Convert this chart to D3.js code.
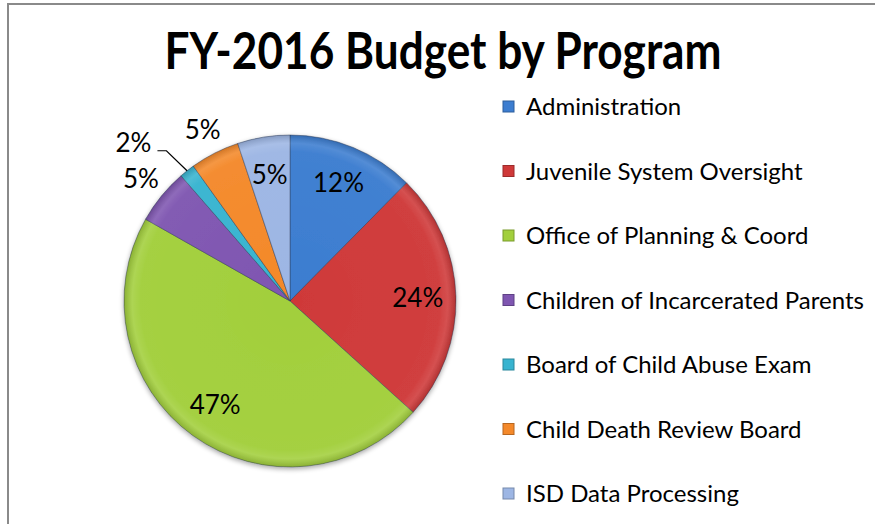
<!DOCTYPE html>
<html><head><meta charset="utf-8">
<script src="https://cdn.jsdelivr.net/npm/d3@7/dist/d3.min.js"></script>
<style>html,body{margin:0;padding:0;background:#fff;}svg{display:block;}</style>
</head><body>
<svg id="c" width="875" height="524"></svg>
<script>
const title = "FY-2016 Budget by Program";
const categories = ["Administration","Juvenile System Oversight","Office of Planning & Coord","Children of Incarcerated Parents","Board of Child Abuse Exam","Child Death Review Board","ISD Data Processing"];
const values = [12.4, 24.3, 46.5, 5.4, 1.5, 4.8, 5.1];
const colors = ["#3c7dd0","#cf3939","#a2cf3c","#7f56b1","#38b4d0","#f4892a","#9db6e4"];

const svg = d3.select("#c");
const W = 875, H = 524;
const lf = "Lato,'Open Sans',Arial,sans-serif";
svg.append("rect").attr("x",8).attr("y",4).attr("width",W+10).attr("height",H+10)
  .attr("fill","#fff").attr("stroke","#8a8a8a").attr("stroke-width",2);

svg.append("text").attr("x",443).attr("y",69).attr("text-anchor","middle")
  .attr("font-family",lf)
  .attr("font-weight","bold").attr("font-size",52)
  .attr("textLength",557).attr("lengthAdjust","spacingAndGlyphs")
  .attr("fill","#000").text(title);

const cx = 290, cy = 301, R = 166;
const total = d3.sum(values);
const data = categories.map((c,i)=>({cat:c, v:values[i], i}));
const pie = d3.pie().value(d=>d.v).sort(null);
const arcs = pie(data);
const arc = d3.arc().innerRadius(0).outerRadius(R);
const defs = svg.append("defs");
const rg = defs.append("radialGradient").attr("id","shade").attr("gradientUnits","userSpaceOnUse")
  .attr("cx",0).attr("cy",0).attr("r",R);
rg.append("stop").attr("offset","0%").attr("stop-color","#fff").attr("stop-opacity",0);
rg.append("stop").attr("offset","90%").attr("stop-color","#fff").attr("stop-opacity",0.03);
rg.append("stop").attr("offset","95%").attr("stop-color","#fff").attr("stop-opacity",0.12);
rg.append("stop").attr("offset","100%").attr("stop-color","#000").attr("stop-opacity",0.15);
const f = defs.append("filter").attr("id","sh").attr("x","-10%").attr("y","-10%").attr("width","120%").attr("height","120%");
f.append("feGaussianBlur").attr("in","SourceAlpha").attr("stdDeviation",2.5);
f.append("feOffset").attr("dx",0).attr("dy",2).attr("result","b");
f.append("feComponentTransfer").append("feFuncA").attr("type","linear").attr("slope",0.35);
const fm = f.append("feMerge"); fm.append("feMergeNode"); fm.append("feMergeNode").attr("in","SourceGraphic");

const g = svg.append("g").attr("transform",`translate(${cx},${cy})`);
const pg = g.append("g").attr("filter","url(#sh)");
pg.selectAll("path.s").data(arcs).join("path").attr("class","s")
  .attr("d",arc).attr("fill",(d,i)=>colors[i])
  .attr("stroke","#2d3a55").attr("stroke-opacity",0.45).attr("stroke-width",1);
pg.selectAll("path.h").data(arcs).join("path").attr("class","h")
  .attr("d",arc).attr("fill","url(#shade)");

const inArc = d3.arc().innerRadius(R*0.77).outerRadius(R*0.77);
const outArc = d3.arc().innerRadius(R*1.16).outerRadius(R*1.16);
arcs.forEach((a,i)=>{
  const pct = Math.round(a.data.v/total*100) + "%";
  const share = a.data.v/total;
  if (share >= 0.05 && i !== 5 && i !== 3) {
    const [x,y] = inArc.centroid(a);
    g.append("text").attr("x",x).attr("y",y).attr("dy","0.35em").attr("text-anchor","middle")
      .attr("font-family",lf).attr("font-size",26).attr("fill","#000").text(pct);
  } else if (share >= 0.03) {
    const [x,y] = outArc.centroid(a);
    g.append("text").attr("x",x).attr("y",y).attr("dy","0.35em").attr("text-anchor","middle")
      .attr("font-family",lf).attr("font-size",26).attr("fill","#000").text(pct);
  } else {
    const m = (a.startAngle+a.endAngle)/2;
    const p0 = [R*1.0*Math.sin(m), -R*1.0*Math.cos(m)];
    const p1 = [R*1.2*Math.sin(m), -R*1.2*Math.cos(m)+6];
    const p2 = [p1[0]-9, p1[1]];
    g.append("polyline").attr("points",[p0,p1,p2].map(p=>p.join(",")).join(" "))
      .attr("fill","none").attr("stroke","#000").attr("stroke-width",1.2);
    g.append("text").attr("x",p2[0]-6).attr("y",p2[1]-8).attr("dy","0.35em").attr("text-anchor","end")
      .attr("font-family",lf).attr("font-size",26).attr("fill","#000").text(pct);
  }
});

const lg = svg.append("g");
const ly = d3.scalePoint().domain(categories).range([107,494]);
categories.forEach((c,i)=>{
  const y = ly(c);
  lg.append("rect").attr("x",503).attr("y",y-6).attr("width",11).attr("height",11)
    .attr("fill",colors[i]).attr("stroke",d3.color(colors[i]).darker(0.8)).attr("stroke-width",1);
  lg.append("text").attr("x",526).attr("y",y).attr("dy","0.35em")
    .attr("font-family",lf).attr("font-size",24).attr("fill","#000").text(c);
});
</script>
</body></html>
